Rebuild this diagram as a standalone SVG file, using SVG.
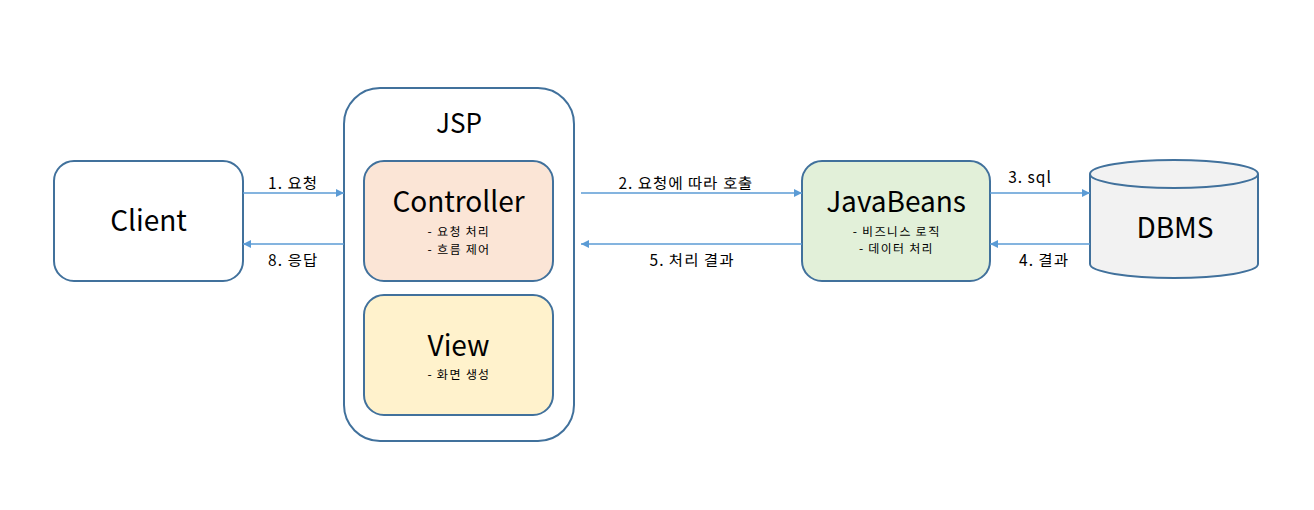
<svg xmlns="http://www.w3.org/2000/svg" width="1314" height="510" viewBox="0 0 1314 510">
<style>
.box{stroke:#41719C;stroke-width:2}
.t{font-family:"Noto Sans KR","Noto Sans CJK KR","Noto Sans",sans-serif;fill:#000;text-anchor:middle}
.big{font-size:28px}
.sub{font-size:12px;letter-spacing:1.3px}
.lbl{font-size:15.5px;letter-spacing:1px}
.arr{stroke:#5B9BD5;stroke-width:1.3;fill:none;marker-end:url(#ah)}
</style>
<defs>
<marker id="ah" viewBox="0 0 10 10" refX="10" refY="5" markerWidth="8" markerHeight="8" markerUnits="userSpaceOnUse" orient="auto">
<path d="M0,0 L10,5 L0,10 z" fill="#5B9BD5"/>
</marker>
</defs>
<rect width="1314" height="510" fill="#fff"/>
<g id="client">
<rect class="box" x="54" y="161" width="189" height="120" rx="20" fill="#fff"/>
<text class="t big" x="148.5" y="231">Client</text>
</g>
<g id="jsp">
<rect class="box" x="344" y="88" width="230" height="353" rx="36" fill="#fff"/>
<text class="t" x="459" y="133" font-size="26">JSP</text>
</g>
<g id="controller">
<rect class="box" x="364" y="161" width="189" height="120" rx="20" fill="#FBE5D6"/>
<text class="t big" x="458.5" y="212">Controller</text>
<text class="t sub" x="459" y="236">- 요청 처리</text>
<text class="t sub" x="459" y="253.5">- 흐름 제어</text>
</g>
<g id="view">
<rect class="box" x="364" y="295" width="189" height="120" rx="20" fill="#FFF2CC"/>
<text class="t big" x="458.5" y="356">View</text>
<text class="t sub" x="459" y="379">- 화면 생성</text>
</g>
<g id="javabeans">
<rect class="box" x="802" y="161" width="188" height="120" rx="20" fill="#E2F0D9"/>
<text class="t big" x="896" y="212">JavaBeans</text>
<text class="t sub" x="896.5" y="235.5">- 비즈니스 로직</text>
<text class="t sub" x="896.5" y="253">- 데이터 처리</text>
</g>
<g id="dbms">
<path class="box" d="M1090,174 L1090,264 A84,14 0 0 0 1258,264 L1258,174 A84,14 0 0 0 1090,174 z" fill="#F2F2F2"/>
<path class="box" d="M1090,174 A84,14 0 0 0 1258,174" fill="none"/>
<text class="t big" x="1175" y="238">DBMS</text>
</g>
<g id="connectors">
<line class="arr" x1="243" y1="193" x2="344" y2="193"/>
<line class="arr" x1="344" y1="244" x2="243" y2="244"/>
<line class="arr" x1="581" y1="193" x2="802" y2="193"/>
<line class="arr" x1="802" y1="244" x2="581" y2="244"/>
<line class="arr" x1="990" y1="193" x2="1090" y2="193"/>
<line class="arr" x1="1090" y1="244" x2="990" y2="244"/>
<text class="t lbl" x="293" y="189">1. 요청</text>
<text class="t lbl" x="293" y="266">8. 응답</text>
<text class="t lbl" x="686" y="189">2. 요청에 따라 호출</text>
<text class="t lbl" x="692" y="266">5. 처리 결과</text>
<text class="t lbl" x="1030" y="183">3. sql</text>
<text class="t lbl" x="1044" y="266">4. 결과</text>
</g>
</svg>
